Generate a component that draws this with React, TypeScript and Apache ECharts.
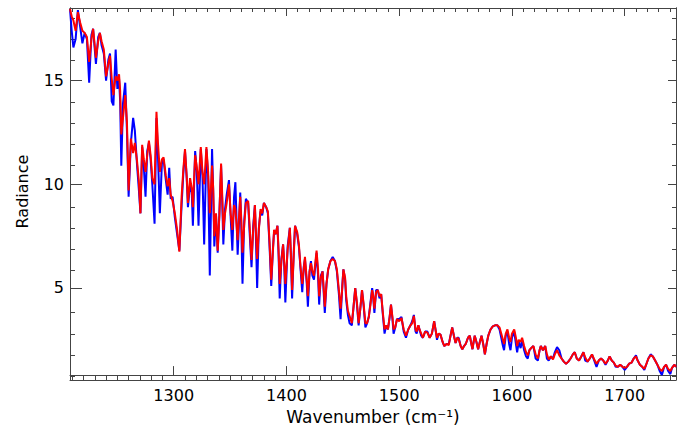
import React, { useEffect, useRef } from "react";
import * as echarts from "echarts";

const wavenumber = [
  1208, 1209.5, 1211, 1213, 1215, 1217, 1219, 1221, 1223, 1225,
  1227, 1228.5, 1231, 1233, 1234.5, 1236, 1238, 1240, 1242, 1243.5,
  1245, 1246.5, 1248.5, 1250, 1251.5, 1252.5, 1253.5, 1255, 1257, 1258.5,
  1260, 1262, 1264, 1265.5, 1267.5, 1269, 1270.5, 1272, 1273.5, 1275,
  1276.5, 1278, 1279.5, 1281, 1283, 1284.7, 1286, 1287.7, 1289.5, 1291,
  1293, 1294.6, 1296, 1297.3, 1299, 1301, 1303, 1305, 1307, 1308.5,
  1310, 1311.5, 1312.6, 1314.5, 1316, 1317, 1319, 1320.5, 1322, 1324,
  1325.5, 1327, 1329, 1330.5, 1332, 1334, 1335, 1336, 1337.5, 1339,
  1340.5, 1342, 1343, 1344, 1345.5, 1347, 1349, 1350.5, 1352, 1353.5,
  1354.7, 1356.7, 1359, 1360, 1361, 1362.5, 1364, 1366, 1367.5, 1369,
  1370.5, 1372, 1373, 1374, 1375.5, 1377, 1378.5, 1380, 1382, 1383.5,
  1385, 1386.5, 1388, 1389, 1390.5, 1392, 1393, 1394, 1395.5, 1397,
  1398, 1399, 1401, 1403, 1404, 1405, 1406.5, 1407.6, 1409.5, 1411,
  1412.5, 1414, 1415.3, 1416.4, 1418, 1419, 1420.5, 1421.7, 1423, 1424.4,
  1426.7, 1428, 1429, 1430.5, 1432, 1433, 1434, 1435.5, 1437, 1439,
  1441, 1443, 1444.7, 1446.5, 1448, 1449.5, 1450.5, 1452, 1453, 1454.5,
  1456, 1458, 1459.5, 1461, 1462.5, 1464, 1465.5, 1467, 1468.5, 1470,
  1471.5, 1473, 1474.5, 1476, 1477, 1478, 1479.5, 1481, 1482.5, 1484,
  1485.5, 1487, 1488.5, 1490, 1491.5, 1492.7, 1494, 1495, 1496.5, 1498,
  1500, 1502, 1504, 1506, 1508, 1510, 1511.5, 1513, 1514.5, 1515.5,
  1517, 1518, 1519.5, 1521, 1523, 1525, 1527, 1529, 1531, 1532.5,
  1533.5, 1535, 1536.6, 1538.5, 1540, 1542, 1544, 1545.5, 1547, 1548.5,
  1550, 1551.5, 1552.7, 1554.5, 1556, 1557.5, 1559, 1561, 1562.6, 1564,
  1565, 1566, 1567, 1568.5, 1570, 1571.5, 1573, 1574.5, 1576, 1577.5,
  1579, 1581, 1583, 1585, 1587, 1589, 1590.5, 1592, 1593, 1594.5,
  1596, 1597.5, 1598.7, 1600, 1602, 1603.5, 1604.6, 1606, 1607.7, 1609,
  1610.8, 1612.5, 1614, 1615.5, 1617, 1619, 1621, 1623, 1624.5, 1625.6,
  1627.5, 1629.5, 1631, 1632.6, 1634.5, 1636.4, 1638, 1640, 1642, 1644,
  1646, 1648, 1650, 1652, 1654, 1655.7, 1657.5, 1659.5, 1661.5, 1663.4,
  1665, 1667, 1669, 1671, 1673, 1675, 1677, 1679, 1681, 1683,
  1685, 1686.6, 1688.5, 1690.4, 1692, 1694, 1696, 1698, 1700, 1702,
  1704, 1706, 1708, 1710, 1711.5, 1713.5, 1715.5, 1717.4, 1719, 1721,
  1723, 1725, 1727, 1729, 1731, 1733, 1735, 1736.7, 1738.5, 1740.5,
  1742, 1744, 1745.5,
];

const radianceRed = [
  18.45, 18.1, 17.9, 17.4, 18.3, 17.8, 17.4, 17.3, 17.1, 15.9,
  17.0, 17.5, 16.1, 16.9, 17.3, 16.9, 16.5, 15.2, 15.8, 16.2,
  15.1, 14.3, 15.2, 15.0, 15.3, 14.5, 12.4, 13.2, 14.3, 13.0,
  9.7, 12.2, 11.5, 12.0, 11.1, 10.2, 8.6, 11.9, 11.2, 10.6,
  11.4, 12.1, 11.4, 10.3, 10.0, 13.5, 12.0, 10.6, 11.2, 11.3,
  10.4, 9.9, 10.3, 9.5, 9.2, 8.6, 7.8, 6.75, 9.4, 10.7,
  11.7, 10.4, 9.1, 10.3, 9.8, 8.9, 11.4, 10.8, 10.0, 11.8,
  10.6, 10.0, 11.8, 10.6, 8.6, 10.9, 9.8, 7.5, 8.6, 6.8,
  8.5, 11.0, 9.5, 7.8, 8.6, 9.1, 10.0, 8.6, 7.8, 9.0,
  8.8, 7.3, 9.4, 8.2, 6.7, 8.0, 9.1, 9.2, 7.8, 6.35,
  7.8, 9.0, 7.6, 6.4, 7.8, 8.8, 8.6, 9.1, 8.9, 8.7,
  7.2, 5.4, 6.8, 7.8, 7.6, 8.0, 6.8, 5.2, 6.3, 7.1,
  6.3, 5.2, 6.8, 7.9, 6.6, 4.9, 6.6, 8.0, 7.7, 7.1,
  6.0, 5.2, 5.9, 6.5, 5.4, 4.6, 5.8, 6.2, 5.8, 5.6,
  6.8, 5.9, 4.6, 5.5, 5.8, 5.0, 4.1, 5.2, 5.9, 6.3,
  6.4, 6.3, 5.9, 4.9, 4.0, 5.0, 5.9, 5.5, 4.6, 3.9,
  3.65, 3.3, 4.1, 5.0, 4.3, 3.3, 4.0, 4.9, 4.2, 3.3,
  3.3, 3.6, 4.2, 4.9, 4.6, 4.0, 4.8, 4.9, 4.6, 4.7,
  3.8, 3.0, 3.2, 3.0, 3.6, 4.2, 3.6, 3.0, 3.1, 3.5,
  3.4, 3.55, 3.0, 2.7, 3.0, 3.2, 3.3, 3.65, 3.0, 2.9,
  3.2, 3.0, 2.8, 2.6, 2.9, 2.85, 2.6, 2.8, 3.4, 2.9,
  2.6, 2.8, 2.75, 2.4, 2.2, 2.3, 2.25, 2.7, 3.1, 2.7,
  2.35, 2.6, 2.55, 2.2, 2.05, 2.2, 2.3, 2.6, 2.7, 2.3,
  2.05, 2.4, 2.7, 2.4, 2.05, 2.4, 2.7, 2.3, 1.8, 2.3,
  2.7, 3.0, 3.15, 3.2, 3.2, 3.1, 2.8, 2.5, 2.3, 2.8,
  3.0, 2.6, 2.4, 2.8, 3.0, 2.6, 2.2, 2.5, 2.4, 2.6,
  2.2, 1.9, 1.75, 2.0, 2.1, 2.2, 1.8, 1.6, 2.0, 2.2,
  2.0, 2.2, 1.8, 1.55, 1.7, 1.55, 1.8, 2.0, 1.75, 1.6,
  1.45, 1.35, 1.45, 1.6, 1.8, 1.9, 1.6, 1.5, 1.7, 1.9,
  1.65, 1.45, 1.6, 1.8, 1.55, 1.35, 1.5, 1.6, 1.5, 1.35,
  1.5, 1.7, 1.5, 1.4, 1.25, 1.2, 1.3, 1.2, 1.15, 1.2,
  1.35, 1.4, 1.6, 1.7, 1.5, 1.3, 1.2, 1.1, 1.3, 1.6,
  1.75, 1.7, 1.5, 1.3, 1.1, 1.0, 1.2, 1.3, 1.1, 1.0,
  1.15, 1.3, 1.2,
];

const radianceBlue = [
  18.45, 17.4, 16.6, 17.0, 18.4, 17.6, 16.8, 17.3, 17.0, 14.9,
  17.2, 17.5, 15.8, 17.1, 17.3, 16.7, 16.3, 15.0, 16.0, 16.3,
  14.0, 13.8, 16.5, 14.6, 15.1, 14.0, 10.9, 13.9, 14.9, 12.6,
  9.4, 12.0, 13.2, 12.6, 10.9, 9.8, 8.6, 11.8, 10.8, 9.4,
  11.6, 12.0, 11.2, 10.0, 8.1, 13.2, 11.4, 8.6, 11.0, 11.2,
  10.2, 9.5, 10.8, 9.3, 9.4, 8.4, 7.6, 6.8, 9.0, 10.5,
  11.6, 10.3, 8.9, 10.0, 9.6, 8.0, 11.6, 10.6, 8.0, 11.7,
  10.4, 7.1, 11.7, 10.4, 5.6, 11.7, 9.7, 7.0, 8.5, 6.7,
  8.6, 10.9, 9.2, 7.1, 8.8, 9.5, 10.2, 8.4, 6.8, 9.4,
  10.1, 6.6, 9.6, 7.8, 5.2, 8.2, 9.3, 9.1, 7.5, 6.0,
  8.0, 9.0, 7.2, 5.0, 7.9, 8.7, 8.5, 9.1, 8.9, 8.6,
  7.0, 5.1, 6.9, 7.7, 7.6, 8.0, 6.6, 4.5, 6.4, 7.1,
  6.1, 4.3, 7.0, 7.9, 6.3, 4.5, 6.8, 8.0, 7.6, 7.0,
  5.9, 4.8, 6.0, 6.4, 5.2, 4.1, 5.8, 6.3, 5.6, 5.4,
  6.7, 5.6, 4.2, 5.6, 5.8, 4.8, 3.8, 5.2, 5.9, 6.3,
  6.5, 6.3, 5.8, 4.7, 3.5, 5.1, 5.9, 5.4, 4.4, 3.7,
  3.3, 3.2, 4.1, 5.0, 4.2, 3.2, 4.0, 4.9, 4.1, 3.1,
  3.3, 3.6, 4.3, 5.0, 4.5, 3.8, 4.9, 4.9, 4.5, 4.7,
  3.7, 2.8, 3.2, 3.0, 3.6, 4.2, 3.5, 2.8, 3.1, 3.5,
  3.5, 3.6, 2.9, 2.6, 3.0, 3.2, 3.4, 3.7, 2.9, 2.8,
  3.2, 3.0, 2.7, 2.6, 2.9, 2.9, 2.6, 2.8, 3.4, 2.9,
  2.5, 2.8, 2.75, 2.4, 2.2, 2.3, 2.3, 2.7, 3.1, 2.7,
  2.35, 2.6, 2.6, 2.2, 2.05, 2.2, 2.3, 2.6, 2.7, 2.3,
  2.05, 2.4, 2.7, 2.4, 2.05, 2.4, 2.7, 2.3, 1.8, 2.3,
  2.7, 3.0, 3.15, 3.2, 3.2, 3.0, 2.6, 2.2, 2.0, 2.7,
  2.9, 2.3, 2.0, 2.6, 2.9, 2.3, 1.9, 2.4, 2.1, 2.5,
  2.0, 1.7, 1.6, 2.0, 2.1, 2.2, 1.6, 1.5, 2.0, 2.2,
  2.0, 2.2, 1.6, 1.5, 1.7, 1.6, 1.9, 2.15, 2.0, 1.6,
  1.45, 1.35, 1.45, 1.6, 1.8, 1.9, 1.6, 1.5, 1.7, 1.9,
  1.5, 1.45, 1.6, 1.8, 1.5, 1.2, 1.5, 1.6, 1.5, 1.3,
  1.5, 1.7, 1.5, 1.4, 1.2, 1.2, 1.3, 1.2, 1.05, 1.2,
  1.35, 1.4, 1.6, 1.75, 1.5, 1.3, 1.2, 1.05, 1.3, 1.6,
  1.8, 1.7, 1.5, 1.3, 1.0, 0.8, 1.2, 1.3, 1.0, 0.85,
  1.15, 1.3, 1.2,
];

const xMajorTicks = [1300, 1400, 1500, 1600, 1700];
const xMinorTicks = [
  1210, 1220, 1230, 1240, 1250, 1260, 1270, 1280, 1290,
  1310, 1320, 1330, 1340, 1350, 1360, 1370, 1380, 1390,
  1410, 1420, 1430, 1440, 1450, 1460, 1470, 1480, 1490,
  1510, 1520, 1530, 1540, 1550, 1560, 1570, 1580, 1590,
  1610, 1620, 1630, 1640, 1650, 1660, 1670, 1680, 1690,
  1710, 1720, 1730, 1740,
];
const yMajorTicks = [5, 10, 15];
const yMinorTicks = [1, 2, 3, 4, 6, 7, 8, 9, 11, 12, 13, 14, 16, 17, 18];

const X_MIN = 1208;
const X_MAX = 1745.5;
const Y_MIN = 0.8;
const Y_MAX = 18.5;

const FONT = "DejaVu Sans";
const AXIS_COLOR = "#444";

export default function App() {
  const ref = useRef<HTMLDivElement>(null);

  useEffect(() => {
    if (!ref.current) return;
    const chart = echarts.init(ref.current, null, { renderer: "svg" });

    const lineStyle = { color: AXIS_COLOR, width: 1 };
    const plain = (v: number) => String(v);
    const makeX = (gridIndex: number, position: string, ticks: number[], len: number, labels: boolean) => ({
      type: "value",
      gridIndex,
      position,
      min: X_MIN,
      max: X_MAX,
      axisLine: { show: true, onZero: false, lineStyle },
      axisTick: { show: true, inside: true, length: len, customValues: ticks, lineStyle },
      axisLabel: labels
        ? { show: true, customValues: ticks, formatter: plain, margin: 12, fontSize: 16, fontFamily: FONT, color: "#000" }
        : { show: false },
      splitLine: { show: false },
    });
    const makeY = (gridIndex: number, position: string, ticks: number[], len: number, labels: boolean) => ({
      type: "value",
      gridIndex,
      position,
      min: Y_MIN,
      max: Y_MAX,
      axisLine: { show: true, onZero: false, lineStyle },
      axisTick: { show: true, inside: true, length: len, customValues: ticks, lineStyle },
      axisLabel: labels
        ? { show: true, customValues: ticks, formatter: plain, margin: 6, fontSize: 16, fontFamily: FONT, color: "#000" }
        : { show: false },
      splitLine: { show: false },
    });

    const xBottom: any = makeX(0, "bottom", xMajorTicks, 9, true);
    xBottom.name = "Wavenumber (cm\u207B\u00B9)";
    xBottom.nameLocation = "middle";
    xBottom.nameGap = 25;
    xBottom.nameTextStyle = { fontSize: 17, fontFamily: FONT, color: "#000" };

    const yLeft: any = makeY(0, "left", yMajorTicks, 12, true);
    yLeft.name = "Radiance";
    yLeft.nameLocation = "middle";
    yLeft.nameGap = 40;
    yLeft.nameTextStyle = { fontSize: 16, fontFamily: FONT, color: "#000" };

    const blueData = wavenumber.map((w, i) => [w, radianceBlue[i]]);
    const redData = wavenumber.map((w, i) => [w, radianceRed[i]]);

    chart.setOption({
      animation: false,
      backgroundColor: "#fff",
      grid: [
        { left: 70, right: 1, top: 8, bottom: 50 },
        { left: 70, right: 1, top: 8, bottom: 50 },
      ],
      xAxis: [
        xBottom,
        makeX(0, "top", xMajorTicks, 8, false),
        makeX(1, "bottom", xMinorTicks, 4, false),
        makeX(1, "top", xMinorTicks, 4, false),
      ],
      yAxis: [
        yLeft,
        makeY(0, "right", yMajorTicks, 8, false),
        makeY(1, "left", yMinorTicks, 5, false),
        makeY(1, "right", yMinorTicks, 4, false),
      ],
      series: [
        {
          type: "line",
          name: "blue",
          xAxisIndex: 0,
          yAxisIndex: 0,
          data: blueData,
          showSymbol: false,
          silent: true,
          lineStyle: { color: "#0000ff", width: 2 },
          itemStyle: { color: "#0000ff" },
        },
        {
          type: "line",
          name: "red",
          xAxisIndex: 0,
          yAxisIndex: 0,
          data: redData,
          showSymbol: false,
          silent: true,
          lineStyle: { color: "#ff0000", width: 2 },
          itemStyle: { color: "#ff0000" },
        },
      ],
    });

    return () => chart.dispose();
  }, []);

  return (
    <div
      ref={ref}
      style={{ position: "fixed", left: 0, top: 0, width: 677, height: 430, background: "#fff" }}
    />
  );
}
